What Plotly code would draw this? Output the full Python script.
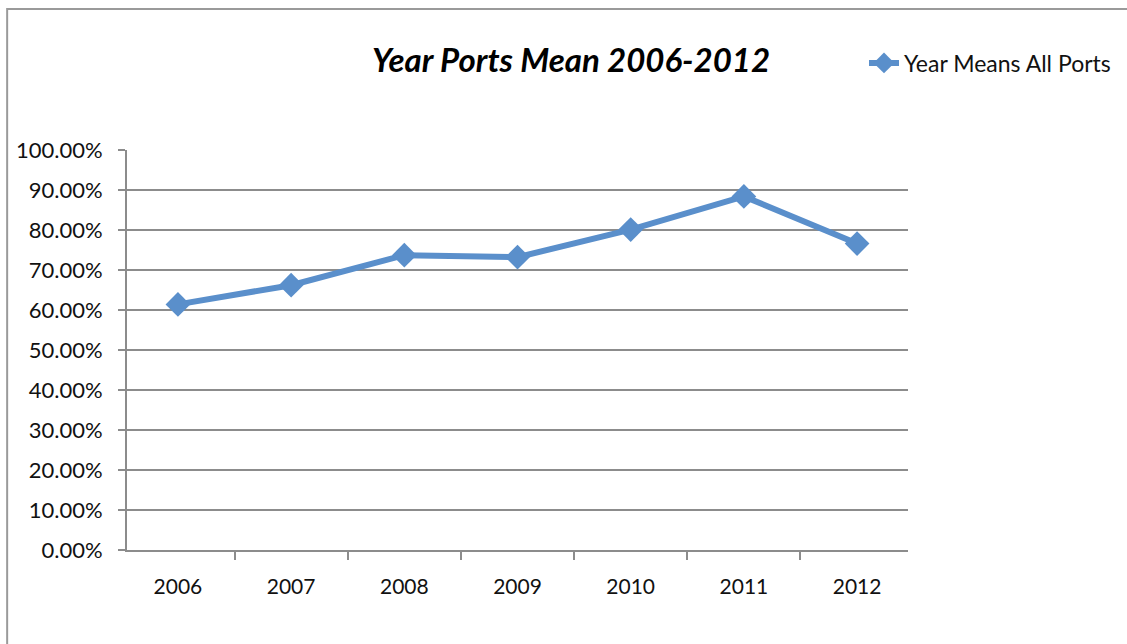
import plotly.graph_objects as go

years = ["2006", "2007", "2008", "2009", "2010", "2011", "2012"]
year_means = [0.614, 0.662, 0.737, 0.732, 0.801, 0.884, 0.766]
y_ticks = [i / 10 for i in range(11)]
y_tick_labels = [f"{v * 100:.2f}%" for v in y_ticks]

line_color = "#5a8fcb"
axis_color = "#8c8c8c"
font_family = "Lato, Carlito, Calibri, sans-serif"

fig = go.Figure()
fig.add_trace(go.Scatter(
    x=years,
    y=year_means,
    mode="lines+markers",
    name="Year Means All Ports",
    line=dict(color=line_color, width=6),
    marker=dict(symbol="diamond", size=19, color=line_color),
))

fig.update_layout(
    width=1127,
    height=644,
    margin=dict(l=127, r=218, t=150, b=94),
    paper_bgcolor="white",
    plot_bgcolor="white",
    font=dict(family=font_family, color="#111111", size=21),
    title=dict(
        text="<b><i>Year Ports Mean 2006-2012</i></b>",
        x=571 / 1127,
        xanchor="center",
        y=1 - 60 / 644,
        yanchor="middle",
        font=dict(size=33, family=font_family, color="#000000"),
    ),
    showlegend=True,
    legend=dict(
        x=(864 - 127) / 782,
        xanchor="left",
        y=(550 - 63) / 400,
        yanchor="middle",
        font=dict(size=23, family=font_family, color="#111111"),
        bgcolor="rgba(0,0,0,0)",
        itemwidth=30,
        tracegroupgap=0,
    ),
    xaxis=dict(
        type="category",
        showgrid=False,
        showline=True,
        linecolor=axis_color,
        linewidth=2,
        ticks="outside",
        tickson="boundaries",
        ticklen=8,
        tickwidth=2,
        tickcolor=axis_color,
        ticklabelstandoff=17,
        tickfont=dict(size=21),
        zeroline=False,
        fixedrange=True,
    ),
    yaxis=dict(
        range=[0, 1],
        tickvals=y_ticks,
        ticktext=y_tick_labels,
        showgrid=True,
        gridcolor=axis_color,
        gridwidth=2,
        showline=True,
        linecolor=axis_color,
        linewidth=2,
        ticks="outside",
        ticklen=7,
        tickwidth=2,
        tickcolor=axis_color,
        ticklabelstandoff=11,
        tickfont=dict(size=22),
        zeroline=False,
        fixedrange=True,
    ),
)

# chart frame around the whole figure
fig.add_shape(
    type="rect",
    xref="paper", yref="paper",
    x0=(7 - 127) / 782, x1=1.5,
    y0=-0.5, y1=(550 - 9) / 400,
    line=dict(color="#9a9a9a", width=2),
    fillcolor="rgba(0,0,0,0)",
    layer="below",
)

fig.write_html("out.html")
